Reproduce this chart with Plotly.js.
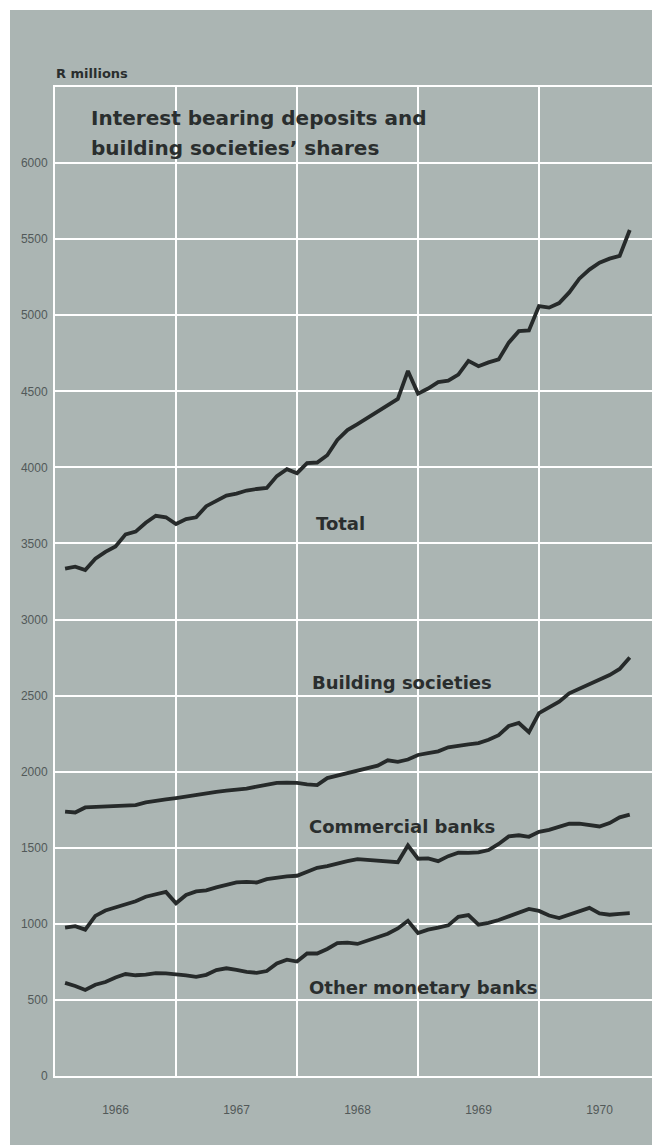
<!DOCTYPE html>
<html>
<head>
<meta charset="utf-8">
<script src="https://cdn.plot.ly/plotly-3.0.1.min.js"></script>
<style>
html,body{margin:0;padding:0;background:#ffffff;width:652px;height:1145px;overflow:hidden}
#chart{position:absolute;left:10px;top:10px;width:642px;height:1135px}
</style>
</head>
<body>
<div id="chart"></div>
<script>
// ---- data (R millions, month-end figures, Jan 1966 - Sep 1970) ----
const monthCount = 57;
const firstYear = 1966;
const yearLabels = ['1966', '1967', '1968', '1969', '1970'];
const yTickValues = [0, 500, 1000, 1500, 2000, 2500, 3000, 3500, 4000, 4500, 5000, 5500, 6000];

const total = [3335,3348,3325,3400,3445,3480,3560,3578,3636,3682,
               3672,3628,3660,3672,3745,3778,3815,3828,3848,3858,
               3865,3943,3988,3962,4028,4032,4080,4180,4245,4285,
               4325,4365,4405,4450,4634,4485,4518,4560,4570,4610,
               4700,4665,4690,4710,4820,4895,4900,5060,5050,5080,
               5150,5240,5300,5345,5372,5390,5560];

const buildingSocieties = [1738,1732,1765,1768,1771,1774,1777,1780,1798,1810,
                           1818,1827,1838,1852,1862,1868,1875,1880,1888,1902,
                           1915,1926,1928,1926,1916,1912,1958,1975,1992,2008,
                           2020,2040,2075,2065,2080,2110,2122,2134,2160,2173,
                           2180,2188,2210,2240,2300,2320,2260,2385,2420,2460,
                           2515,2545,2575,2605,2635,2675,2750];

const commercialBanks = [975,985,962,1052,1088,1108,1128,1148,1178,1196,
                         1210,1135,1190,1213,1220,1240,1258,1272,1276,1272,
                         1294,1304,1312,1316,1340,1368,1380,1398,1412,1425,
                         1420,1420,1410,1405,1515,1428,1430,1412,1445,1468,
                         1466,1470,1485,1525,1575,1582,1572,1605,1618,1640,
                         1658,1658,1646,1640,1662,1700,1718];

const otherMonetaryBanks = [612,592,565,600,618,648,670,662,666,676,
                            674,670,662,652,665,696,708,698,684,678,
                            690,740,765,752,805,805,835,873,876,868,
                            892,915,935,970,1020,940,962,975,990,1046,
                            1058,995,1006,1025,1050,1075,1098,1085,1055,1038,
                            1060,1085,1105,1068,1060,1066,1070];

const seriesNames = ['Total', 'Building societies', 'Commercial banks', 'Other monetary banks'];
const titleLines = ['Interest bearing deposits and', 'building societies\u2019 shares'];
const unitLabel = 'R millions';

// month-end positions in decimal years
const monthEnds = [];
for (let k = 1; k <= monthCount; k++) monthEnds.push(firstYear + k / 12);
const yearCentres = yearLabels.map((y) => Number(y) + 0.5);

// ---- layout geometry (page pixels) ----
const plotLeft = 55, plotRight = 652, plotTop = 87, plotBottom = 1076;
const pxPerYear = 121;
const xp = (px) => (px - plotLeft) / (plotRight - plotLeft);
const yp = (py) => (plotBottom - py) / (plotBottom - plotTop);

const bg = '#abb5b3';
const ink = '#262a2a';
const tickFont = {family: 'Liberation Sans Narrow, Liberation Sans, Arial, sans-serif', size: 12, color: '#525959'};
const labelFont = (size) => ({family: 'DejaVu Sans, sans-serif', size: size, color: '#2a2e2e', weight: 'bold'});

const allSeries = [total, buildingSocieties, commercialBanks, otherMonetaryBanks];
const traces = allSeries.map((vals, i) => ({
  x: monthEnds, y: vals, name: seriesNames[i], type: 'scatter', mode: 'lines',
  line: {color: ink, width: 3.8}, hoverinfo: 'skip'
}));

function ann(text, px, baseline, size) {
  return {text: text, xref: 'paper', yref: 'paper', x: xp(px), y: yp(baseline - 0.3 * size),
          xanchor: 'left', yanchor: 'middle', showarrow: false, font: labelFont(size), borderpad: 0};
}

const layout = {
  width: 642, height: 1135,
  margin: {l: plotLeft - 10, r: 0, t: plotTop - 10, b: 1135 - (plotBottom - 10)},
  paper_bgcolor: bg, plot_bgcolor: bg,
  showlegend: false,
  xaxis: {
    range: [firstYear, firstYear + (plotRight - plotLeft) / pxPerYear],
    tickmode: 'array', tickvals: yearCentres, ticktext: yearLabels,
    showgrid: false, zeroline: false,
    ticks: 'outside', ticklen: 22, tickcolor: 'rgba(0,0,0,0)',
    tickfont: tickFont,
    showline: true, linecolor: '#ffffff', linewidth: 2, mirror: true,
    minor: {tickmode: 'linear', tick0: firstYear, dtick: 1, showgrid: true, gridcolor: '#ffffff', gridwidth: 2, ticks: ''}
  },
  yaxis: {
    range: [0, 6500],
    tickmode: 'array', tickvals: yTickValues, ticktext: yTickValues.map(String),
    showgrid: true, gridcolor: '#ffffff', gridwidth: 2, zeroline: false,
    ticks: 'outside', ticklen: 3, tickcolor: 'rgba(0,0,0,0)',
    tickfont: tickFont,
    showline: true, linecolor: '#ffffff', linewidth: 2
  },
  annotations: [
    ann(unitLabel, 55, 77.5, 13),
    ann(titleLines[0], 90, 124, 20),
    ann(titleLines[1], 90, 154, 20),
    ann(seriesNames[0], 315, 529, 18),
    ann(seriesNames[1], 311, 688, 18),
    ann(seriesNames[2], 308, 832, 18),
    ann(seriesNames[3], 308, 992.5, 18)
  ]
};

Plotly.newPlot('chart', traces, layout, {displayModeBar: false, staticPlot: true});
</script>
</body>
</html>
